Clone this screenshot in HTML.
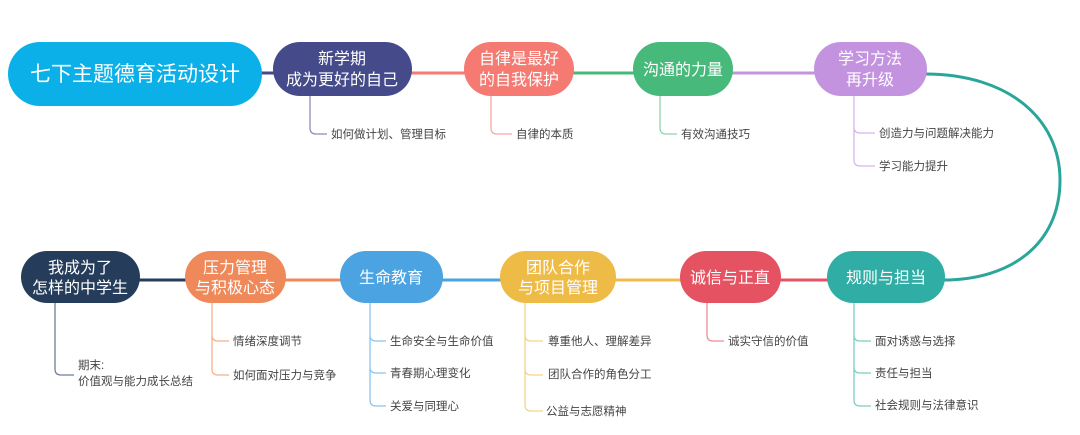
<!DOCTYPE html>
<html><head><meta charset="utf-8"><style>
body{margin:0;background:#fff;}
svg{display:block;font-family:"Liberation Sans","Noto Sans CJK SC",sans-serif;}
.n{fill:#fff;font-size:16px;text-anchor:middle;}
.s{fill:#444;font-size:11.5px;}
</style></head><body>
<svg width="1080" height="435" viewBox="0 0 1080 435">
<g fill="none" stroke-width="3">
<line x1="258" y1="73" x2="276" y2="73" stroke="#454a8a"/>
<line x1="410" y1="73" x2="467" y2="73" stroke="#f47a72"/>
<line x1="571" y1="73" x2="635" y2="73" stroke="#47b97a"/>
<line x1="731" y1="73" x2="816" y2="73" stroke="#c393e0"/>
<path d="M925 74 C1010 74 1060 120 1060 180 C1060 245 1010 280 943 280" stroke="#2aa59a"/>
<line x1="138" y1="280" x2="187" y2="280" stroke="#253d5b"/>
<line x1="284" y1="280" x2="342" y2="280" stroke="#f0895a"/>
<line x1="441" y1="280" x2="502" y2="280" stroke="#4ba3e2"/>
<line x1="614" y1="280" x2="682" y2="280" stroke="#efbb47"/>
<line x1="779" y1="280" x2="829" y2="280" stroke="#e55363"/>
</g>
<g fill="none" stroke-width="1.3">
<path d="M310 95 V128 Q310 134 316 134 H327" stroke="#8a8cb8"/>
<path d="M491 95 V128 Q491 134 497 134 H512" stroke="#f7a8a3"/>
<path d="M660 95 V128 Q660 134 666 134 H677" stroke="#8fd4ad"/>
<path d="M854 95 V160 Q854 166 860 166 H875 M854 127 Q854 133 860 133 H875" stroke="#d7b5ec"/>
<path d="M55 303 V369 Q55 375 61 375 H74" stroke="#6d7f96"/>
<path d="M212 303 V369 Q212 375 218 375 H229 M212 335 Q212 341 218 341 H229" stroke="#f5b08e"/>
<path d="M370 303 V400 Q370 406 376 406 H386 M370 335 Q370 341 376 341 H386 M370 367 Q370 373 376 373 H386" stroke="#8cc4ee"/>
<path d="M525 303 V405 Q525 411 531 411 H543 M525 335 Q525 341 531 341 H543 M525 369 Q525 375 531 375 H543" stroke="#f4d488"/>
<path d="M707 303 V335 Q707 341 713 341 H724" stroke="#ee8c97"/>
<path d="M854 303 V400 Q854 406 860 406 H871 M854 335 Q854 341 860 341 H871 M854 367 Q854 373 860 373 H871" stroke="#7fccc5"/>
</g>
<rect x="8" y="42" width="254" height="64" rx="32" fill="#0bb0e8"/>
<text x="135" y="81" class="n" style="font-size:21px">七下主题德育活动设计</text>
<rect x="273" y="42" width="139" height="54" rx="27" fill="#454a8a"/>
<text x="342" y="64" class="n">新学期</text><text x="342" y="85" class="n">成为更好的自己</text>
<rect x="464" y="42" width="110" height="54" rx="27" fill="#f47a72"/>
<text x="519" y="64" class="n">自律是最好</text><text x="519" y="85" class="n">的自我保护</text>
<rect x="633" y="42" width="100" height="54" rx="27" fill="#47b97a"/>
<text x="683" y="75" class="n">沟通的力量</text>
<rect x="814" y="42" width="113" height="54" rx="27" fill="#c393e0"/>
<text x="870" y="64" class="n">学习方法</text><text x="870" y="85" class="n">再升级</text>
<rect x="21" y="251" width="119" height="52" rx="26" fill="#253d5b"/>
<text x="80" y="273" class="n">我成为了</text><text x="80" y="293" class="n">怎样的中学生</text>
<rect x="185" y="251" width="101" height="52" rx="26" fill="#f0895a"/>
<text x="235" y="273" class="n">压力管理</text><text x="235" y="293" class="n">与积极心态</text>
<rect x="340" y="251" width="103" height="52" rx="26" fill="#4ba3e2"/>
<text x="391" y="283" class="n">生命教育</text>
<rect x="500" y="251" width="116" height="52" rx="26" fill="#efbb47"/>
<text x="558" y="273" class="n">团队合作</text><text x="558" y="293" class="n">与项目管理</text>
<rect x="680" y="251" width="101" height="52" rx="26" fill="#e55363"/>
<text x="730" y="283" class="n">诚信与正直</text>
<rect x="827" y="251" width="118" height="52" rx="26" fill="#30aea5"/>
<text x="886" y="283" class="n">规则与担当</text>
<g class="s">
<text x="331" y="138">如何做计划、管理目标</text>
<text x="516" y="138">自律的本质</text>
<text x="681" y="138">有效沟通技巧</text>
<text x="879" y="137">创造力与问题解决能力</text>
<text x="879" y="170">学习能力提升</text>
<text x="78" y="369">期末:</text>
<text x="78" y="385">价值观与能力成长总结</text>
<text x="233" y="345">情绪深度调节</text>
<text x="233" y="379">如何面对压力与竞争</text>
<text x="390" y="345">生命安全与生命价值</text>
<text x="390" y="377">青春期心理变化</text>
<text x="390" y="410">关爱与同理心</text>
<text x="548" y="345">尊重他人、理解差异</text>
<text x="548" y="378">团队合作的角色分工</text>
<text x="546" y="415">公益与志愿精神</text>
<text x="728" y="345">诚实守信的价值</text>
<text x="875" y="345">面对诱惑与选择</text>
<text x="875" y="377">责任与担当</text>
<text x="875" y="409">社会规则与法律意识</text>
</g>
</svg>
</body></html>
